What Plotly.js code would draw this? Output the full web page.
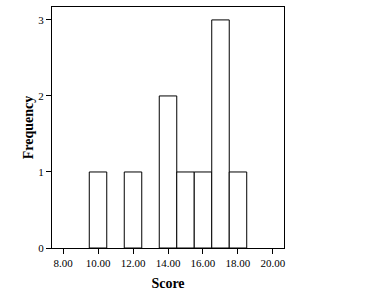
<!DOCTYPE html>
<html><head><meta charset="utf-8">
<script src="https://cdn.plot.ly/plotly-3.0.1.min.js"></script>
<style>html,body{margin:0;padding:0;background:#fff;}#chart{width:379px;height:304px;}</style>
</head><body><div id="chart"></div>
<script>
var binCenters = [10, 12, 14, 15, 16, 17, 18];
var frequencies = [1, 1, 2, 1, 1, 3, 1];
var xTickValues = [8, 10, 12, 14, 16, 18, 20];
var xTickLabels = ["8.00", "10.00", "12.00", "14.00", "16.00", "18.00", "20.00"];
var yTickValues = [0, 1, 2, 3];

var trace = {
  type: 'bar',
  x: binCenters,
  y: frequencies,
  width: 1,
  marker: {color: '#ffffff', line: {color: '#000000', width: 1}},
  hoverinfo: 'skip'
};
var tickFont = {family: 'Liberation Serif, Times New Roman, serif', size: 11, color: '#000'};
var layout = {
  width: 379, height: 304,
  margin: {l: 52, r: 95, t: 7, b: 56, pad: 0},
  paper_bgcolor: '#fff', plot_bgcolor: '#fff',
  showlegend: false,
  bargap: 0,
  xaxis: {
    range: [7.37, 20.63], tickvals: xTickValues, ticktext: xTickLabels,
    ticks: 'outside', ticklen: 5, tickwidth: 1, tickcolor: '#000',
    showline: true, linecolor: '#000', linewidth: 1, mirror: true,
    showgrid: false, zeroline: false, tickfont: tickFont, automargin: false,
    title: {text: 'Score', font: {family: 'Liberation Serif, Times New Roman, serif', size: 14, color: '#000', weight: 'bold'}, standoff: 9}
  },
  yaxis: {
    range: [0, 3.17], tickvals: yTickValues, ticktext: ['0','1','2','3'],
    ticks: 'outside', ticklen: 5, tickwidth: 1, tickcolor: '#000',
    showline: true, linecolor: '#000', linewidth: 1, mirror: true,
    showgrid: false, zeroline: false, tickfont: tickFont, automargin: false,
    title: {text: 'Frequency', font: {family: 'Liberation Serif, Times New Roman, serif', size: 14, color: '#000', weight: 'bold'}, standoff: 1}
  }
};
Plotly.newPlot('chart', [trace], layout, {staticPlot: true, displayModeBar: false});
</script></body></html>
